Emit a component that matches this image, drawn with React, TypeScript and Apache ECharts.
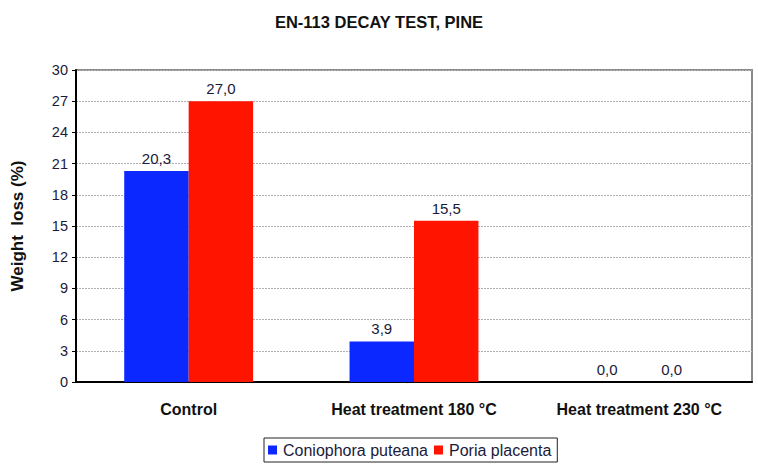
import React, { useEffect, useRef } from "react";
import * as echarts from "echarts";

const categories = ["Control", "Heat treatment 180 °C", "Heat treatment 230 °C"];
const coniophora = [20.3, 3.9, 0.0];
const poria = [27.0, 15.5, 0.0];
const yTicks = [0, 3, 6, 9, 12, 15, 18, 21, 24, 27, 30];

const FONT = "'Liberation Sans', Arial, sans-serif";

export default function App() {
  const ref = useRef<HTMLDivElement>(null);
  useEffect(() => {
    const chart = echarts.init(ref.current!, null, { renderer: "svg" });
    const fmt = (p: any) => Number(p.value).toFixed(1).replace(".", ",");
    const labelStyle = {
      show: true,
      position: "top",
      formatter: fmt,
      fontFamily: FONT,
      fontSize: 15,
      color: "#1a1a3a",
      distance: 5,
    };
    chart.setOption({
      animation: false,
      backgroundColor: "#fff",
      textStyle: { fontFamily: FONT },
      title: {
        text: "EN-113 DECAY TEST, PINE",
        left: "center",
        top: 8,
        textStyle: { fontFamily: FONT, fontSize: 16.5, fontWeight: "bold", color: "#111" },
      },
      grid: {
        left: 76,
        right: 6,
        top: 70,
        bottom: 82,
        show: true,
        borderColor: "#8a8a8a",
        borderWidth: 2,
      },
      legend: {
        bottom: 2,
        left: 264,
        icon: "rect",
        itemWidth: 9,
        itemHeight: 9,
        itemGap: 6,
        borderColor: "#222",
        borderWidth: 1,
        padding: [4, 6, 4, 4],
        textStyle: { fontFamily: FONT, fontSize: 16, color: "#1a1a3a", padding: [0, 0, 0, 1] },
        data: ["Coniophora puteana", "Poria placenta"],
      },
      xAxis: {
        type: "category",
        data: categories,
        axisLine: { lineStyle: { color: "#000", width: 2 } },
        axisTick: { show: false },
        axisLabel: { fontFamily: FONT, fontSize: 16, fontWeight: "bold", color: "#111", margin: 19 },
      },
      yAxis: {
        type: "value",
        min: 0,
        max: 30,
        interval: 3,
        name: "Weight  loss (%)",
        nameLocation: "middle",
        nameGap: 50,
        nameTextStyle: { fontFamily: FONT, fontSize: 17, fontWeight: "bold", color: "#111" },
        axisLine: { show: true, lineStyle: { color: "#000", width: 2 } },
        axisTick: { show: true, length: 4, lineStyle: { color: "#000" } },
        axisLabel: {
          fontFamily: FONT,
          fontSize: 14.5,
          color: "#1a1a3a",
          margin: 8,
          formatter: (v: number) => (yTicks.includes(v) ? String(v) : ""),
        },
        splitLine: { show: true, lineStyle: { color: "#b0b0b0", type: [2, 1], width: 1 } },
      },
      series: [
        {
          name: "Coniophora puteana",
          type: "bar",
          data: coniophora,
          barWidth: "28.6%",
          barGap: "0%",
          itemStyle: { color: "#0a28ff" },
          label: labelStyle,
        },
        {
          name: "Poria placenta",
          type: "bar",
          data: poria,
          barWidth: "28.6%",
          barGap: "0%",
          itemStyle: { color: "#ff1400" },
          label: labelStyle,
        },
      ],
    });
    return () => chart.dispose();
  }, []);
  return <div ref={ref} style={{ width: 758, height: 464, position: "absolute", left: 0, top: 0 }} />;
}
